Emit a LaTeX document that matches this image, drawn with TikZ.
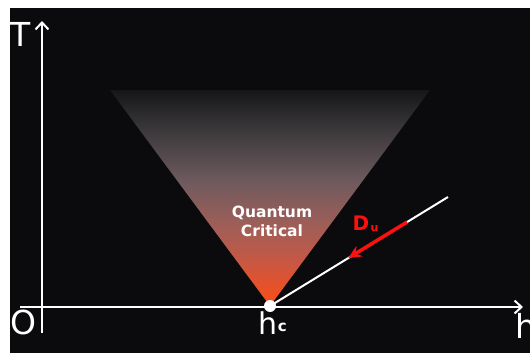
\documentclass[tikz,border=0pt]{standalone}
\usepackage{fontspec}
\setmainfont{DejaVu Sans}
\newfontfamily\labfont{DejaVu Sans}
\newfontfamily\qcfont{DejaVu Sans}
\usetikzlibrary{arrows.meta,calc}
\definecolor{bgblack}{HTML}{0B0B0D}
\definecolor{durred}{HTML}{FF1010}
\pgfdeclareverticalshading{coneshade}{100bp}{%
  color(0bp)=(rgb,255:red,248;green,78;blue,22);
  color(25bp)=(rgb,255:red,248;green,78;blue,22);
  color(28bp)=(rgb,255:red,238;green,80;blue,34);
  color(36bp)=(rgb,255:red,196;green,88;blue,70);
  color(44bp)=(rgb,255:red,158;green,94;blue,88);
  color(54bp)=(rgb,255:red,110;green,90;blue,94);
  color(66bp)=(rgb,255:red,58;green,56;blue,58);
  color(75bp)=(rgb,255:red,22;green,22;blue,24);
  color(100bp)=(rgb,255:red,22;green,22;blue,24)}
\begin{document}
\begin{tikzpicture}[x=1pt,y=-1pt,
  axis/.style={white,line width=2pt,-{Straight Barb[length=7pt,width=13pt,line width=2pt]}},
  axlabel/.style={text=white,font=\labfont\fontsize{33}{33}\selectfont,inner sep=0pt},
  qclabel/.style={text=white,font=\qcfont\bfseries\fontsize{15.5}{19}\selectfont,align=center,inner sep=0pt},
  crossline/.style={white,line width=2pt},
  flowarrow/.style={durred,line width=3.5pt,-{Stealth[length=13pt,width=12pt]}}]
\useasboundingbox (0,0) rectangle (530,353);
\fill[white] (0,0) rectangle (530,353);
\fill[bgblack] (10,8) rectangle (530,353);
% cone
\coordinate (qcp) at (270,306);
\coordinate (coneL) at (110,90);
\coordinate (coneR) at (430,90);
\shade[shading=coneshade] (coneL) -- (coneR) -- (qcp) -- cycle;
% axes
\coordinate (hstart) at (20,307);
\coordinate (hend) at (523,307);
\coordinate (vstart) at (42,333);
\coordinate (vend) at (42,21);
\draw[axis] (hstart) -- (hend);
\draw[axis] (vstart) -- (vend);
% crossover line
\coordinate (lineend) at (448,197);
\draw[crossline] (qcp) -- (lineend);
\coordinate (redstart) at ($(qcp)!0.77!(lineend)$);
\coordinate (redtip) at ($(qcp)!0.44!(lineend)$);
\draw[flowarrow] (redstart) -- (redtip);
\fill[white] (qcp) circle (6pt);
% labels
\node[axlabel] (Tlab) at (21,34) {T};
\node[axlabel] (Olab) at (23,322) {O};
\node[axlabel] (hlab) at (526,326) {h};
\node[axlabel,font=\labfont\fontsize{30}{30}\selectfont] (hclab) at (268,323) {h};
\node[text=white,font=\labfont\bfseries\fontsize{15}{15}\selectfont,inner sep=0pt,anchor=west] (clab) at (hclab.east) [yshift=-4pt] {c};
\node[qclabel] (qclab) at (272,221) {Quantum\\Critical};
\node[text=durred,font=\qcfont\bfseries\fontsize{20}{20}\selectfont,inner sep=0pt] (Dlab) at (361,223) {D};
\node[text=durred,font=\qcfont\bfseries\fontsize{11}{11}\selectfont,inner sep=0pt,anchor=west] (ulab) at ($(Dlab.east)+(1,6)$) {u};
\end{tikzpicture}
\end{document}
